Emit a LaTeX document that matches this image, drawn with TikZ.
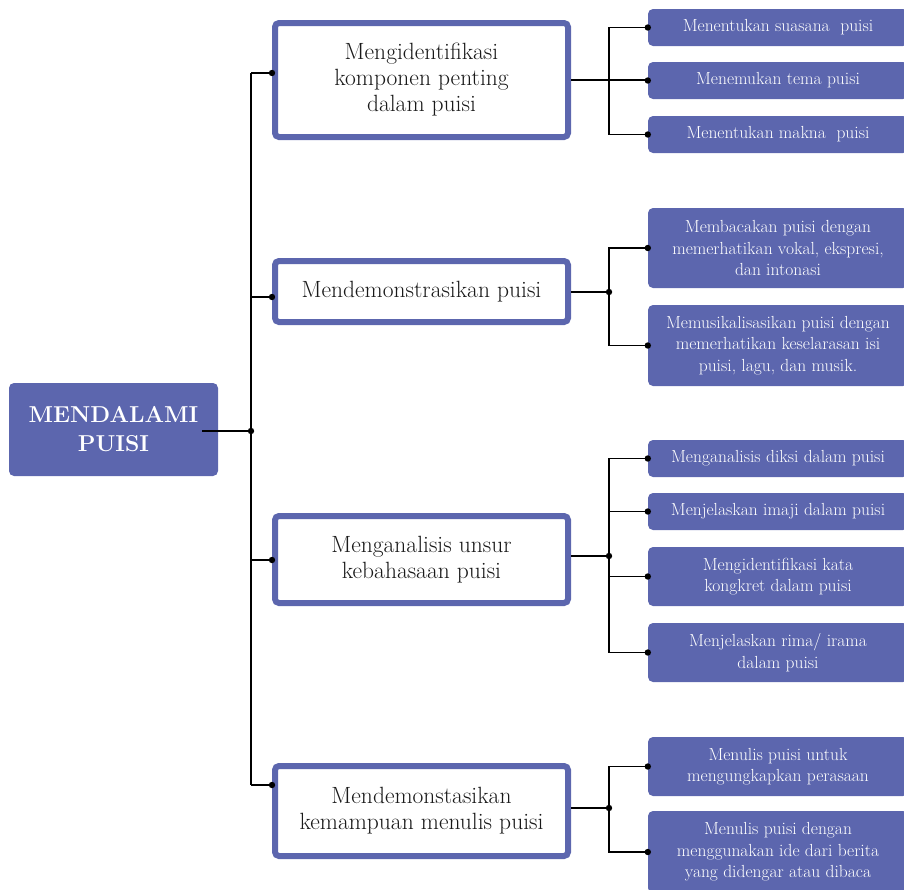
\documentclass[tikz,border=0pt]{standalone}
\usepackage{fontspec}
\usetikzlibrary{calc}

\definecolor{boxblue}{RGB}{92,102,174}
\definecolor{txtgray}{RGB}{25,25,25}

\tikzset{
	rootbox/.style={fill=boxblue, rounded corners=5pt, minimum width=209pt, minimum height=93pt, inner sep=0pt, align=center, text=white, font=\fontsize{23}{29}\selectfont\bfseries\addfontfeatures{LetterSpace=5}},
	topicbox/.style={draw=boxblue, line width=6pt, fill=white, rounded corners=4pt, minimum width=293pt, inner sep=0pt, align=center, text=txtgray, font=\fontsize{23.5}{26}\selectfont},
	subbox/.style={fill=boxblue, rounded corners=5pt, minimum width=260pt, inner sep=0pt, align=center, text=white, font=\fontsize{17.5}{21.5}\selectfont},
	link/.style={line width=1.4pt, black}
}

\begin{document}
\begin{tikzpicture}[x=1pt, y=-1pt]
	\useasboundingbox (0,0) rectangle (904,889);
	
	% root
	\node[rootbox] (root) at (113.5,429.5) {MENDALAMI\\PUISI};
	
	% level one
	\node[topicbox, minimum height=114pt] (b1) at (421.5,80) {Mengidentifikasi\\komponen penting\\dalam puisi};
	\node[topicbox, minimum height=61pt] (b2) at (421.5,291.5) {Mendemonstrasikan puisi};
	\node[topicbox, minimum height=87pt] (b3) at (421.5,559.5) {Menganalisis unsur\\kebahasaan puisi};
	\node[topicbox, minimum height=90pt] (b4) at (421.5,811) {Mendemonstasikan\\kemampuan menulis puisi};
	
	% level two
	\node[subbox, minimum height=37pt] (c1) at (778,27.5) {Menentukan suasana\ \ puisi};
	\node[subbox, minimum height=37pt] (c2) at (778,80.5) {Menemukan tema puisi};
	\node[subbox, minimum height=37pt] (c3) at (778,134.5) {Menentukan makna\ \ puisi};
	\node[subbox, minimum height=80pt] (c4) at (778,248) {Membacakan puisi dengan\\memerhatikan vokal, ekspresi,\\dan intonasi};
	\node[subbox, minimum height=81pt] (c5) at (778,345.5) {Memusikalisasikan puisi dengan\\memerhatikan keselarasan isi\\puisi, lagu, dan musik.};
	\node[subbox, minimum height=37pt] (c6) at (778,458.5) {Menganalisis diksi dalam puisi};
	\node[subbox, minimum height=37pt] (c7) at (778,511.5) {Menjelaskan imaji dalam puisi};
	\node[subbox, minimum height=59pt] (c8) at (778,576.5) {Mengidentifikasi kata\\kongkret dalam puisi};
	\node[subbox, minimum height=59pt] (c9) at (778,652.5) {Menjelaskan rima/ irama\\dalam puisi};
	\node[subbox, minimum height=59pt] (c10) at (778,766.5) {Menulis puisi untuk\\mengungkapkan perasaan};
	\node[subbox, minimum height=82pt] (c11) at (778,852) {Menulis puisi dengan\\menggunakan ide dari berita\\yang didengar atau dibaca};
	
	% trunk
	\coordinate (j0) at (251,431);
	\coordinate (t1) at (251,73);
	\coordinate (t2) at (251,297);
	\coordinate (t3) at (251,560);
	\coordinate (t4) at (251,785);
	\coordinate (e1) at (b1.west |- t1);
	\coordinate (e2) at (b2.west |- t2);
	\coordinate (e3) at (b3.west |- t3);
	\coordinate (e4) at (b4.west |- t4);
	\draw[link] ([xshift=-16pt]root.east |- j0) -- (j0);
	\draw[link] (t1) -- (t4);
	\draw[link] (t1) -- (e1);
	\draw[link] (t2) -- (e2);
	\draw[link] (t3) -- (e3);
	\draw[link] (t4) -- (e4);
	
	% branches
	\coordinate (k1) at (609,80);
	\coordinate (k2) at (609,292);
	\coordinate (k3) at (609,556);
	\coordinate (k4) at (609,808);
	\draw[link] (b1.east |- k1) -- (k1 -| c2.west);
	\draw[link] (c1.west) -| (k1 |- c3.west) -- (c3.west);
	\draw[link] (b2.east |- k2) -- (k2);
	\draw[link] (c4.west) -| (k2 |- c5.west) -- (c5.west);
	\draw[link] (b3.east |- k3) -- (k3);
	\draw[link] (c6.west) -| (k3 |- c9.west) -- (c9.west);
	\draw[link] (k3 |- c7.west) -- (c7.west);
	\draw[link] (k3 |- c8.west) -- (c8.west);
	\draw[link] (b4.east |- k4) -- (k4);
	\draw[link] (c10.west) -| (k4 |- c11.west) -- (c11.west);
	
	% dots
	\foreach \p in {j0,e1,e2,e3,e4,k2,k3,k4}
		\fill (\p) circle (3.2pt);
	\foreach \p in {c1,c2,c3,c4,c5,c6,c7,c8,c9,c10,c11}
		\fill (\p.west) circle (3.2pt);
\end{tikzpicture}
\end{document}
